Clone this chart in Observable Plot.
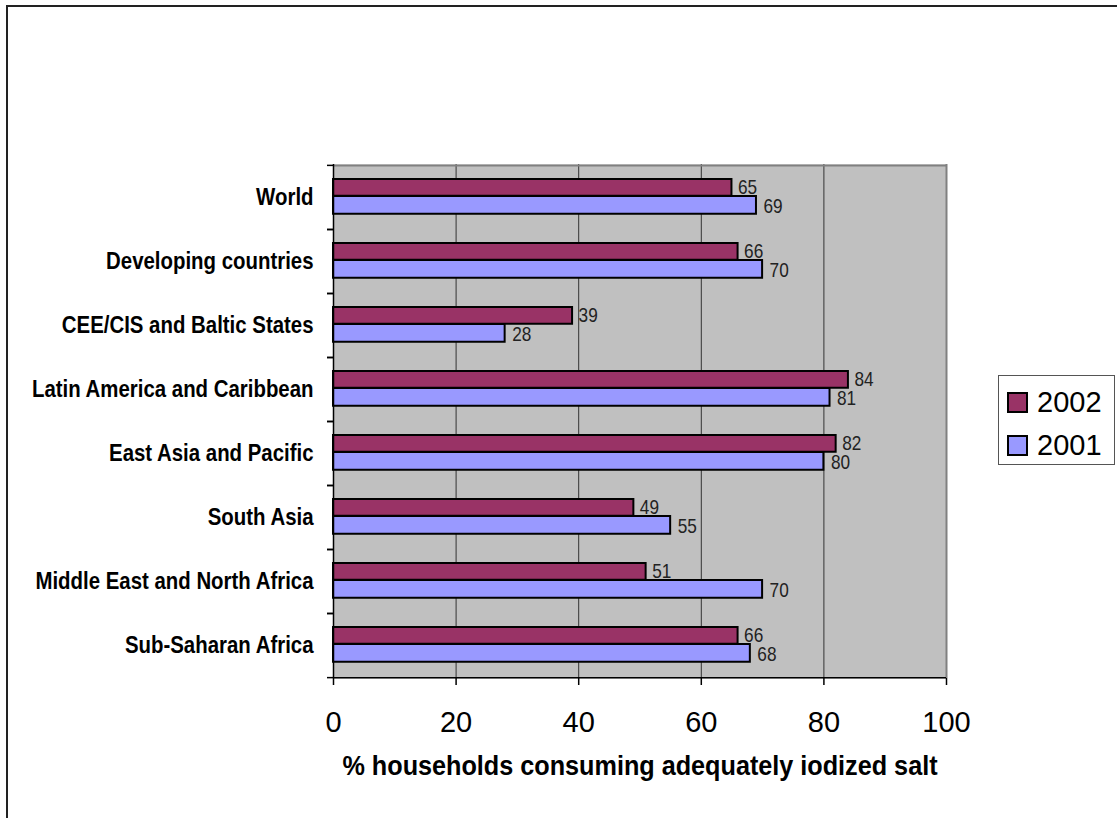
<!DOCTYPE html>
<html>
<head>
<meta charset="utf-8">
<script src="https://cdn.jsdelivr.net/npm/d3@7"></script>
<script src="https://cdn.jsdelivr.net/npm/@observablehq/plot@0.6"></script>
<style>
  html, body { margin: 0; padding: 0; background: #fff; width: 1117px; height: 818px; overflow: hidden; }
  #frame { position: absolute; left: 6px; top: 5px; width: 1200px; height: 900px; border: 2px solid #222; box-sizing: border-box; }
  #chart { position: absolute; left: 0; top: 0; }
  #legend { position: absolute; left: 998px; top: 375px; width: 117px; height: 90px; border: 1px solid #555; box-sizing: border-box; background: #fff;
    font-family: "Liberation Sans", Arial, sans-serif; font-size: 29px; color: #000; }
  .row { position: absolute; left: 8px; display: flex; align-items: center; line-height: 1; }
  .sw { width: 17px; height: 17px; border: 2px solid #000; margin-right: 9px; }
</style>
</head>
<body>
<div id="frame"></div>
<div id="chart"></div>
<div id="legend"></div>
<script>
const categories = ["World", "Developing countries", "CEE/CIS and Baltic States", "Latin America and Caribbean", "East Asia and Pacific", "South Asia", "Middle East and North Africa", "Sub-Saharan Africa"];
const values2002 = [65, 66, 39, 84, 82, 49, 51, 66];
const values2001 = [69, 70, 28, 81, 80, 55, 70, 68];
const years = ["2002", "2001"];
const colors = ["#993366", "#9999FF"];
const xTicks = [0, 20, 40, 60, 80, 100];
const xLabel = "% households consuming adequately iodized salt";

const d2002 = categories.map((c, i) => ({category: c, value: values2002[i], year: "2002"}));
const d2001 = categories.map((c, i) => ({category: c, value: values2001[i], year: "2001"}));

const sans = "'Liberation Sans', Arial, sans-serif";
const band = (678 - 164) / categories.length;

const chart = Plot.plot({
  width: 1117,
  height: 818,
  marginLeft: 333,
  marginRight: 171,
  marginTop: 164,
  marginBottom: 140,
  style: {background: "transparent", overflow: "visible"},
  x: {domain: [0, 100]},
  y: {domain: categories, padding: 0},
  marks: [
    Plot.frame({fill: "#C0C0C0", stroke: null}),
    Plot.ruleX(xTicks.slice(1, -1), {stroke: "#333", strokeWidth: 1}),
    Plot.ruleX([100], {stroke: "#808080", strokeWidth: 2}),
    Plot.ruleY([0], {y: () => categories[0], dy: -band / 2, stroke: "#808080", strokeWidth: 2}),
    Plot.barX(d2002, {x: "value", y: "category", fill: colors[0], stroke: "#000", strokeWidth: 2, insetTop: 14, insetBottom: band - 31}),
    Plot.barX(d2001, {x: "value", y: "category", fill: colors[1], stroke: "#000", strokeWidth: 2, insetTop: 31, insetBottom: band - 49}),
    Plot.text(d2002, {x: "value", y: "category", text: d => String(d.value), dx: 6, dy: -10.5, textAnchor: "start", fill: "#222", fontSize: 21, fontFamily: sans, className: "narrow"}),
    Plot.text(d2001, {x: "value", y: "category", text: d => String(d.value), dx: 7, dy: 9, textAnchor: "start", fill: "#222", fontSize: 21, fontFamily: sans, className: "narrow"}),
    Plot.axisY({tickSize: 0, tickPadding: 20, fontSize: 24, fontWeight: "bold", fontFamily: sans, fill: "#000", label: null, className: "narrowlab"}),
    Plot.axisY({tickSize: 6, dy: -band / 2, text: null, stroke: "#000", strokeWidth: 1.5, label: null}),
    Plot.axisY({tickSize: 6, dy: band / 2, text: null, stroke: "#000", strokeWidth: 1.5, label: null}),
    Plot.ruleX([0], {stroke: "#000", strokeWidth: 1.5}),
    Plot.axisX({ticks: xTicks, tickSize: 7, tickPadding: 26, fontSize: 29, fontFamily: sans, fill: "#000", stroke: "#000", strokeWidth: 1.5, label: null}),
    Plot.ruleY([0], {y: () => categories[categories.length - 1], dy: band / 2, stroke: "#000", strokeWidth: 1.5}),
    Plot.text([xLabel], {frameAnchor: "bottom", dy: 96, text: d => d, fontSize: 28, fontWeight: "bold", fontFamily: sans, fill: "#000", className: "narrowtitle"})
  ]
});
document.getElementById("chart").appendChild(chart);

// Emulate a condensed face: compress Liberation Sans glyphs horizontally
function condense(selector, factor) {
  d3.select(chart).selectAll(selector).each(function() {
    const w = this.getComputedTextLength();
    if (w > 0) {
      this.setAttribute("textLength", (w * factor).toFixed(2));
      this.setAttribute("lengthAdjust", "spacingAndGlyphs");
    }
  });
}
condense(".narrow text", 0.82);
condense(".narrowlab text", 0.85);
condense(".narrowtitle text", 0.9);

const legend = document.getElementById("legend");
years.forEach((y, i) => {
  const row = document.createElement("div");
  row.className = "row";
  row.style.top = (i === 0 ? 12 : 55) + "px";
  const sw = document.createElement("div");
  sw.className = "sw";
  sw.style.background = colors[i];
  const t = document.createElement("span");
  t.textContent = y;
  row.appendChild(sw);
  row.appendChild(t);
  legend.appendChild(row);
});
</script>
</body>
</html>
